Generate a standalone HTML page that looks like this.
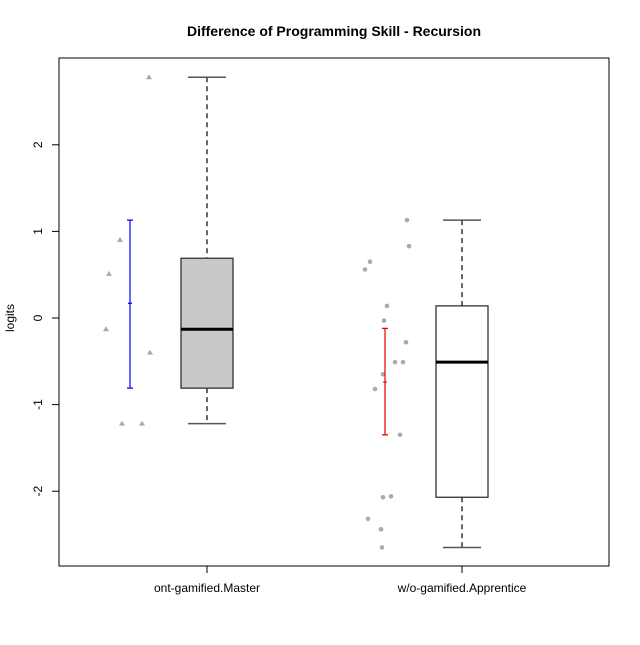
<!DOCTYPE html>
<html><head><meta charset="utf-8"><style>body{margin:0;background:#fff}svg text{font-family:"Liberation Sans",Arial,sans-serif}</style></head>
<body>
<svg id="c" width="640" height="640" xmlns="http://www.w3.org/2000/svg">
<text x="334" y="36" text-anchor="middle" font-size="14" font-weight="bold">Difference of Programming Skill - Recursion</text>
<rect x="59" y="58" width="550" height="508" fill="none" stroke="#000"/>
<text transform="translate(14,318) rotate(-90)" text-anchor="middle" font-size="12">logits</text>
<g id="g"></g>
</svg>
<script>
const categories=["ont-gamified.Master","w/o-gamified.Apprentice"];
const yTicks=[-2,-1,0,1,2];
const boxStats=[[-1.22,-0.81,-0.13,0.69,2.78],[-2.65,-2.07,-0.51,0.14,1.13]];
const boxFill=["#c8c8c8","#ffffff"];
const pts1=[2.78,0.9,0.51,-0.13,-0.40,-1.22,-1.22];
const pts2=[1.13,0.83,0.65,0.56,0.14,-0.03,-0.28,-0.51,-0.51,-0.65,-0.82,-1.35,-2.06,-2.07,-2.32,-2.44,-2.65];
const err1=[-0.81,0.17,1.13];
const err2=[-1.35,-0.74,-0.12];
const jit1=[149,120,109,106,150,122,142];
const jit2=[407,409,370,365,387,384,406,395,403,383,375,400,391,383,368,381,382];
const y=v=>318-86.6*v;
const cx=[207,462];
const g=document.getElementById('g');
const NS="http://www.w3.org/2000/svg";
function mk(t,a){const e=document.createElementNS(NS,t);for(const k in a)e.setAttribute(k,a[k]);g.appendChild(e);return e;}
yTicks.forEach(v=>{
 const l=mk('line',{x1:52,x2:59,y1:y(v),y2:y(v),stroke:'#000'});
 
 
 const t=mk('text',{transform:`translate(42,${y(v)}) rotate(-90)`,'text-anchor':'middle','font-size':12});
 t.textContent=v;
 
 
});
categories.forEach((c,i)=>{
 const l=mk('line',{x1:cx[i],x2:cx[i],y1:566,y2:573,stroke:'#000'});
 
 
 const t=mk('text',{x:cx[i],y:592,'text-anchor':'middle','font-size':12});
 t.textContent=c;
 
 
 const s=boxStats[i],w=26;
 const wk=mk('path',{d:`M${cx[i]} ${y(s[4])}V${y(s[3])}M${cx[i]} ${y(s[1])}V${y(s[0])}`,stroke:'#666','stroke-width':2,'stroke-dasharray':'5,4',fill:'none'});
 
 
 const cp=mk('path',{d:`M${cx[i]-19} ${y(s[4])}H${cx[i]+19}M${cx[i]-19} ${y(s[0])}H${cx[i]+19}`,stroke:'#555','stroke-width':1.5});
 
 
 const b=mk('rect',{x:cx[i]-w,y:y(s[3]),width:2*w,height:y(s[1])-y(s[3]),fill:boxFill[i],stroke:'#333','stroke-width':1.3});
 
 
 const m=mk('line',{x1:cx[i]-w,x2:cx[i]+w,y1:y(s[2]),y2:y(s[2]),stroke:'#000','stroke-width':3});
 
 
});
pts1.forEach((v,i)=>{
 const yy=y(v),x=jit1[i];
 const p=mk('polygon',{points:`${x-3},${yy+2} ${x+3},${yy+2} ${x},${yy-3}`,fill:'#aaa'});
 
 
});
pts2.forEach((v,i)=>{
 const p=mk('circle',{cx:jit2[i],cy:y(v),r:2.3,fill:'#aaa'});
 
 
});
[[err1,130,'#0000ff'],[err2,385,'#e00000']].forEach(([e,x,col],i)=>{
 const p=mk('path',{d:`M${x} ${y(e[0])}V${y(e[2])}M${x-3} ${y(e[0])}H${x+3}M${x-3} ${y(e[2])}H${x+3}M${x-2} ${y(e[1])}H${x+2}`,stroke:col,'stroke-width':1.2,fill:'none'});
 
 
});
</script>
</body></html>
